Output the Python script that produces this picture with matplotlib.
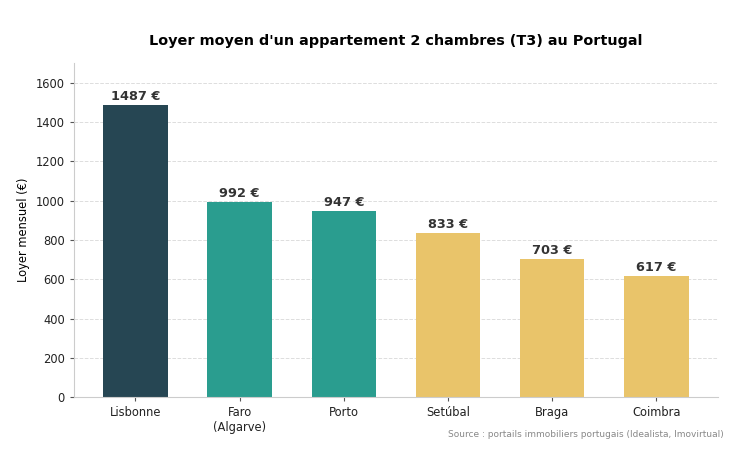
import matplotlib
matplotlib.use("Agg")
import matplotlib.pyplot as plt

cities = ["Lisbonne", "Faro\n(Algarve)", "Porto", "Setúbal", "Braga", "Coimbra"]
rents = [1487, 992, 947, 833, 703, 617]
colors = ["#264653", "#2a9d8f", "#2a9d8f", "#e9c46a", "#e9c46a", "#e9c46a"]

fig = plt.figure(figsize=(7.4, 4.57), dpi=100)
ax = fig.add_axes([0.1, 0.131, 0.87, 0.731])
ax.grid(axis="y", ls="--", color="#dddddd", lw=0.7)
ax.set_axisbelow(True)
x = range(len(cities))
bars = ax.bar(x, rents, width=0.62, color=colors)
for xi, v in zip(x, rents):
    ax.text(xi, v + 12, f"{v} €", ha="center", va="bottom", fontsize=9.3,
            fontweight="bold", color="#333333")
ax.set_xticks(list(x))
ax.set_xticklabels(cities, fontsize=8.3)
ax.set_ylim(0, 1700)
ax.set_xlim(-0.59, 5.59)
ax.set_yticks(range(0, 1601, 200))
ax.tick_params(axis="y", labelsize=8.3)
ax.set_ylabel("Loyer mensuel (€)", fontsize=8.3)
for s in ["top", "right"]:
    ax.spines[s].set_visible(False)
for s in ["left", "bottom"]:
    ax.spines[s].set_color("#cccccc")
ax.tick_params(colors="#222222")
ax.tick_params(axis="both", color="#555555", length=3)
ax.set_title("Loyer moyen d'un appartement 2 chambres (T3) au Portugal",
             fontsize=10.4, fontweight="bold", pad=13)
fig.text(0.978, 0.043, "Source : portails immobiliers portugais (Idealista, Imovirtual)",
         ha="right", fontsize=6.5, color="#888888")
fig.savefig("out.png", dpi=100)
